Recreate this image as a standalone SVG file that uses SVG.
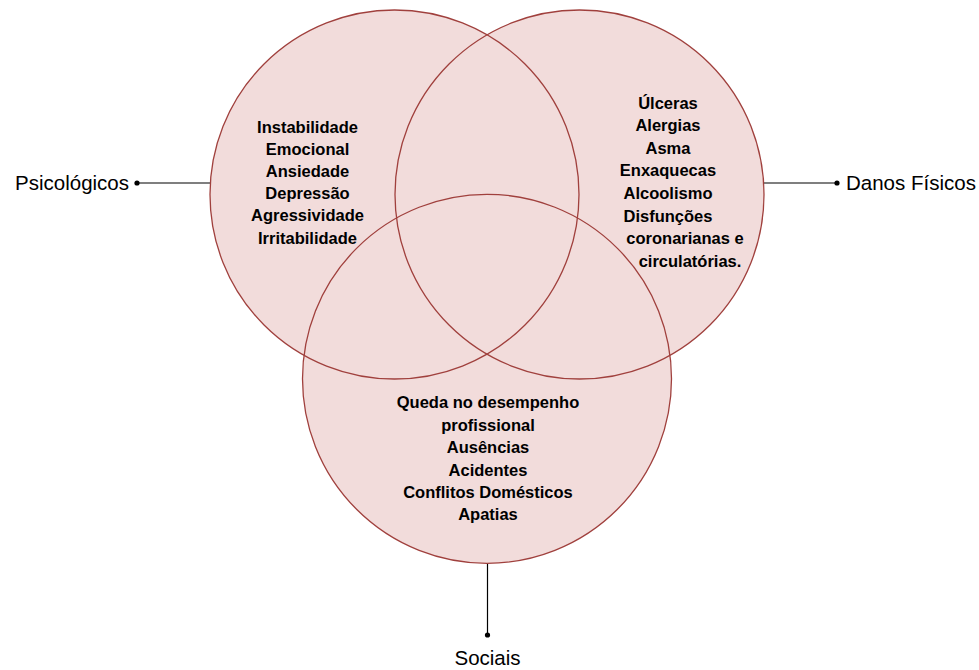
<svg xmlns="http://www.w3.org/2000/svg" width="979" height="670" viewBox="0 0 979 670">
<style>
.fill{fill:#f2dcdb;stroke:none}
.ring{fill:none;stroke:#a0403d;stroke-width:1.3}
.conn{stroke:#000;stroke-width:1.2;fill:none}
.dot{fill:#000}
.lbl{font-family:"Liberation Sans",Arial,sans-serif;font-size:20.5px;fill:#000}
.body{font-family:"Liberation Sans",Arial,sans-serif;font-size:16.5px;font-weight:bold;fill:#000;text-anchor:middle}
</style>
<rect width="979" height="670" fill="#fff"/>
<g id="fills">
<circle class="fill" cx="394.5" cy="194.5" r="184.5"/>
<circle class="fill" cx="579.5" cy="194.5" r="184.5"/>
<circle class="fill" cx="487" cy="378.8" r="184.5"/>
</g>
<g id="connectors">
<line class="conn" x1="137" y1="183" x2="210" y2="183"/>
<circle class="dot" cx="137" cy="183" r="2.6"/>
<line class="conn" x1="764" y1="183" x2="837" y2="183"/>
<circle class="dot" cx="837" cy="183" r="2.6"/>
<line class="conn" x1="487.5" y1="563" x2="487.5" y2="635"/>
<circle class="dot" cx="487.5" cy="635" r="2.6"/>
</g>
<g id="node-psicologicos">
<circle class="ring" cx="394.5" cy="194.5" r="184.5"/>
<text class="lbl" x="129" y="190" text-anchor="end">Psicológicos</text>
<text class="body" x="307.5" y="132.5">Instabilidade</text>
<text class="body" x="307.5" y="154.7">Emocional</text>
<text class="body" x="307.5" y="176.9">Ansiedade</text>
<text class="body" x="307.5" y="199.1">Depressão</text>
<text class="body" x="307.5" y="221.3">Agressividade</text>
<text class="body" x="307.5" y="243.5">Irritabilidade</text>
</g>
<g id="node-danos-fisicos">
<circle class="ring" cx="579.5" cy="194.5" r="184.5"/>
<text class="lbl" x="846" y="189.5">Danos Físicos</text>
<text class="body" x="668" y="108.5">Úlceras</text>
<text class="body" x="668" y="131.1">Alergias</text>
<text class="body" x="668" y="153.7">Asma</text>
<text class="body" x="668" y="176.3">Enxaquecas</text>
<text class="body" x="668" y="198.9">Alcoolismo</text>
<text class="body" x="668" y="221.5">Disfunções</text>
<text class="body" x="685" y="244.1">coronarianas e</text>
<text class="body" x="690" y="266.7">circulatórias.</text>
</g>
<g id="node-sociais">
<circle class="ring" cx="487" cy="378.8" r="184.5"/>
<text class="lbl" x="487.5" y="665" text-anchor="middle">Sociais</text>
<text class="body" x="488" y="408.3">Queda no desempenho</text>
<text class="body" x="488" y="430.7">profissional</text>
<text class="body" x="488" y="453.1">Ausências</text>
<text class="body" x="488" y="475.5">Acidentes</text>
<text class="body" x="488" y="497.9">Conflitos Domésticos</text>
<text class="body" x="488" y="520.3">Apatias</text>
</g>
</svg>
